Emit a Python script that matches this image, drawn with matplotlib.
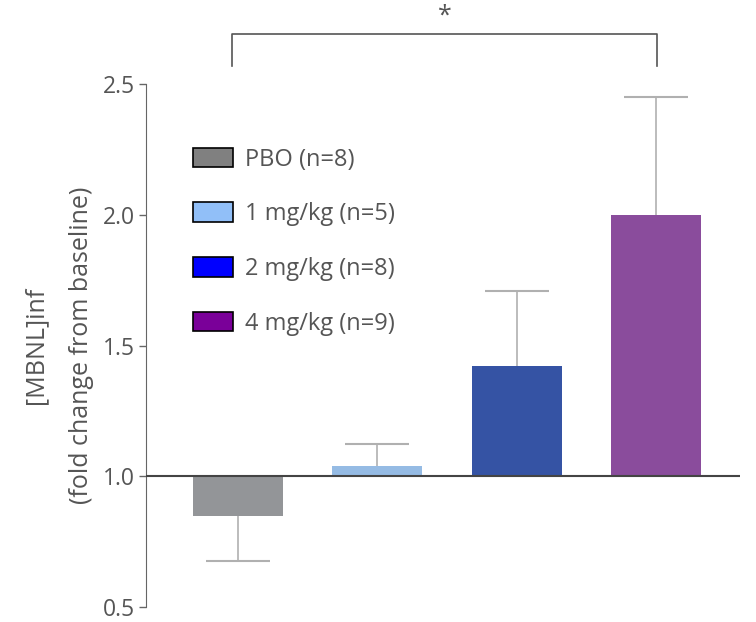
import numpy as np
import matplotlib.pyplot as plt
from matplotlib.patches import Patch

# fold change of [MBNL]inf from baseline
groups = ['PBO (n=8)', '1 mg/kg (n=5)', '2 mg/kg (n=8)', '4 mg/kg (n=9)']
means = [0.85, 1.04, 1.42, 2.00]
errs = [0.175, 0.085, 0.29, 0.45]
bar_colors = ['#939598', '#95bbe4', '#3553a4', '#8a4c9c']
legend_colors = ['#808080', '#91bff8', '#0000ff', '#7a0099']

plt.rcParams['font.family'] = ['Open Sans', 'DejaVu Sans']
txt = '#555555'
fs = 17

fig = plt.figure(figsize=(7.56, 6.22), dpi=100)
ax = fig.add_axes([0.193, 0.024, 0.786, 0.841])

x = np.arange(len(means))
base = 1.0
heights = [m - base for m in means]
ax.bar(x, heights, bottom=base, width=0.645, color=bar_colors, zorder=2)

# one-sided error bars, away from the baseline
for xi, m, e in zip(x, means, errs):
    lower = [[e], [0]] if m < base else [[0], [e]]
    _, caps, bars = ax.errorbar(xi, m, yerr=lower, fmt='none', ecolor='#b0b0b0',
                                elinewidth=1.2, capsize=23, capthick=1.5, zorder=3)
    for c in caps:
        c.set_color('#333333')
    # hide the cap sitting on the bar itself
    caps[0 if m >= base else 1].set_visible(False)

ax.axhline(base, color='#444444', lw=1.5, zorder=4)

ax.set_xlim(-0.66, 3.6)
ax.set_ylim(0.5, 2.5)
ax.set_yticks([0.5, 1.0, 1.5, 2.0, 2.5])
ax.set_yticklabels(['0.5', '1.0', '1.5', '2.0', '2.5'])
ax.set_xticks([])
for s in ['top', 'right', 'bottom']:
    ax.spines[s].set_visible(False)
ax.spines['left'].set_color('#666666')
ax.tick_params(axis='y', colors='#666666', labelcolor=txt, labelsize=16.5, length=5, width=1, pad=3)
for lab in ax.get_yticklabels():
    lab.set_verticalalignment('center_baseline')
ax.set_ylabel('[MBNL]inf\n(fold change from baseline)', fontsize=18, color=txt,
              linespacing=2.1, labelpad=6)

# significance bracket PBO vs 4 mg/kg
bx = [x[0] - 0.04, x[0] - 0.04, x[3] + 0.005, x[3] + 0.005]
by = [2.57, 2.69, 2.69, 2.57]
ax.plot(bx, by, color='#555555', lw=1.2, clip_on=False)
ax.text((bx[0] + bx[3]) / 2, 2.712, '*', ha='center', va='bottom', fontsize=18, color=txt)

handles = [Patch(facecolor=c, edgecolor='black', linewidth=1.2) for c in legend_colors]
ax.legend(handles, groups, loc='upper left', bbox_to_anchor=(0.043, 0.919), frameon=False,
          fontsize=fs, labelcolor=txt, handlelength=1.7, handleheight=0.9,
          labelspacing=1.3, handletextpad=0.5)

fig.savefig('out.png', dpi=100)
